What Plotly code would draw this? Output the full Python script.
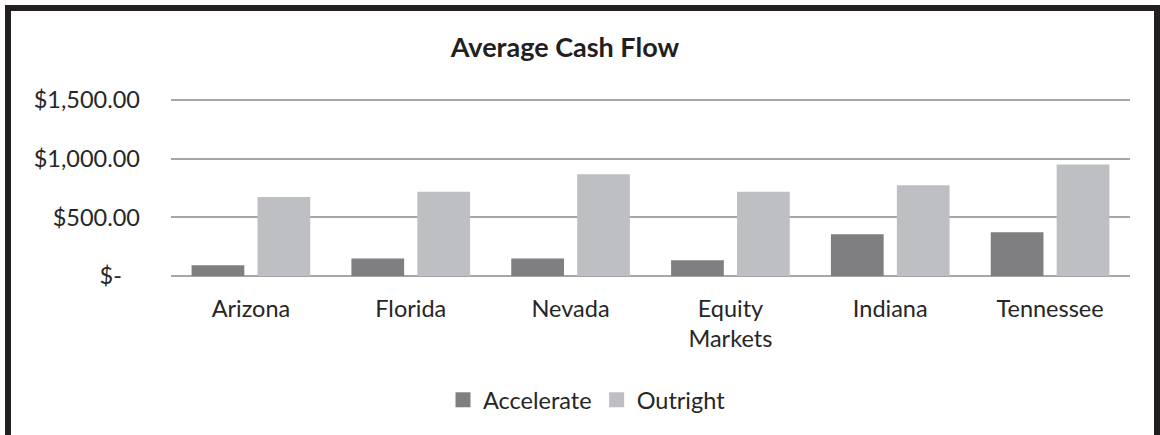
import plotly.graph_objects as go

categories = ["Arizona", "Florida", "Nevada", "Equity Markets", "Indiana", "Tennessee"]
category_labels = ["Arizona", "Florida", "Nevada", "Equity<br>Markets", "Indiana", "Tennessee"]
accelerate = [91, 149, 150, 134, 356, 373]
outright = [674, 717, 868, 717, 774, 951]
series_names = ["Accelerate", "Outright"]
series_colors = ["#7f7f82", "#bebfc2"]
y_tick_values = [0, 500, 1000, 1500]
y_tick_labels = ["$-   ", "$500.00", "$1,000.00", "$1,500.00"]

FONT = "Lato"
FS = 23.5
W, H = 1160, 435
L, R, T, B = 171, 30, 92, 159
Y_MAX = 1500 * (H - B - T) / 176.0

fig = go.Figure()
for name, vals, col in zip(series_names, [accelerate, outright], series_colors):
    fig.add_trace(go.Bar(name=name, x=categories, y=vals, showlegend=False,
                         marker=dict(color=col, line=dict(width=0))))
for name, col in zip(series_names, series_colors):
    fig.add_trace(go.Scatter(name=name, x=[None], y=[None], mode="markers",
                             marker=dict(symbol="square", size=15, color=col)))

pw = W - L - R
ph = H - T - B
def px_x(p):
    return (p - L) / pw
def px_y(p):
    return (H - B - p) / ph

fig.update_layout(
    width=W, height=H,
    margin=dict(l=L, r=R, t=T, b=B),
    paper_bgcolor="white", plot_bgcolor="white",
    barmode="group", bargap=0.175, bargroupgap=0.2,
    font=dict(family=FONT, size=FS, color="#262626"),
    title=dict(text="<b>Average Cash Flow</b>", x=0.487, xref="container", xanchor="center",
               y=1 - 48 / H, yref="container", yanchor="middle",
               font=dict(family=FONT, size=27, color="#231f20")),
    legend=dict(orientation="h", x=px_x(587), xanchor="center", y=px_y(400), yanchor="middle",
                font=dict(family=FONT, size=FS, color="#262626"), itemwidth=30,
                itemsizing="trace", traceorder="normal"),
    xaxis=dict(tickmode="array", tickvals=categories, ticktext=category_labels,
               showgrid=False, showline=False, zeroline=False, ticks="",
               ticklabelstandoff=16,
               tickfont=dict(family=FONT, size=FS, color="#262626")),
    yaxis=dict(range=[0, Y_MAX], tickmode="array", tickvals=y_tick_values, ticktext=y_tick_labels,
               showgrid=True, gridcolor="#a6a6a8", gridwidth=2,
               zeroline=True, zerolinecolor="#a6a6a8", zerolinewidth=2,
               showline=False, ticks="", ticklabelstandoff=30,
               tickfont=dict(family=FONT, size=FS, color="#262626")),
    shapes=[dict(type="rect", xref="paper", yref="paper",
                 x0=px_x(8), x1=px_x(1157), y0=px_y(470), y1=px_y(8),
                 line=dict(color="#231f20", width=6), fillcolor="rgba(0,0,0,0)", layer="above")],
)

fig.write_html("out.html", config={"displayModeBar": False},
               post_script="document.body.style.margin='0';document.body.style.overflow='hidden';")
